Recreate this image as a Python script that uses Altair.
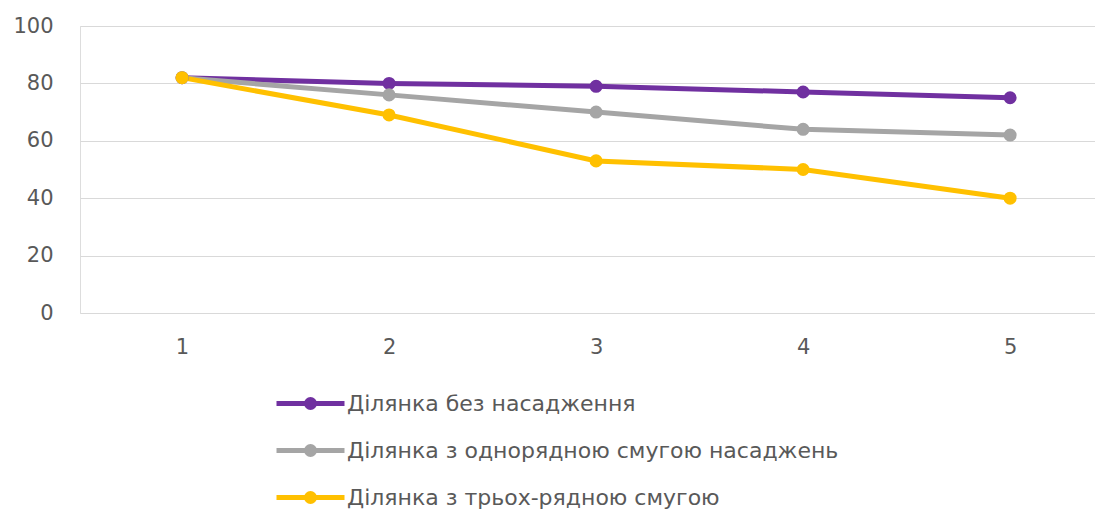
import altair as alt
import pandas as pd

categories = [1, 2, 3, 4, 5]
series_names = [
    "Ділянка без насадження",
    "Ділянка з однорядною смугою насаджень",
    "Ділянка з трьох-рядною смугою",
]
values_none = [82, 80, 79, 77, 75]
values_single = [82, 76, 70, 64, 62]
values_triple = [82, 69, 53, 50, 40]
colors = ["#7030A0", "#A5A5A5", "#FFC000"]
y_ticks = [0, 20, 40, 60, 80, 100]

rows = []
for name, vals in zip(series_names, [values_none, values_single, values_triple]):
    for c, v in zip(categories, vals):
        rows.append({"x": c, "y": v, "series": name})
df = pd.DataFrame(rows)

FONT = "DejaVu Sans"
TEXT = "#595959"

color_scale = alt.Scale(domain=series_names, range=colors)
xenc = alt.X("x:Q", scale=alt.Scale(domain=[0.507, 5.41], nice=False, zero=False),
             axis=alt.Axis(values=categories, grid=False, domain=False, ticks=False,
                           labelPadding=23, labelFontSize=21, labelColor=TEXT, labelFont=FONT,
                           title=None, format="d"))
yenc = alt.Y("y:Q", scale=alt.Scale(domain=[0, 100], nice=False),
             axis=alt.Axis(values=y_ticks, grid=True, gridColor="#D9D9D9", gridWidth=1,
                           domain=False, ticks=False, labelPadding=27, labelFontSize=21,
                           labelColor=TEXT, labelFont=FONT, title=None))

sym = "M-3.4,0H3.4M0.4,0A0.4,0.4,0,1,1,-0.4,0A0.4,0.4,0,1,1,0.4,0Z"

legend = alt.Legend(
    title=None, orient="none", legendX=218, legendY=365,
    direction="vertical", symbolType=sym, symbolSize=400,
    symbolStrokeWidth=5, symbolOpacity=1, labelOffset=24, rowPadding=18,
    labelFontSize=22, labelFont=FONT, labelColor=TEXT, labelLimit=900,
)

lines = alt.Chart(df).mark_line(strokeWidth=5).encode(
    x=xenc, y=yenc,
    stroke=alt.Stroke("series:N", scale=color_scale, sort=series_names, legend=legend),
)
points = alt.Chart(df).mark_point(filled=True, size=170, opacity=1, strokeWidth=0).encode(
    x=xenc, y=yenc,
    fill=alt.Fill("series:N", scale=color_scale, sort=series_names, legend=legend),
    stroke=alt.Stroke("series:N", scale=color_scale, sort=series_names, legend=legend),
)

chart = alt.layer(lines, points).properties(
    width=1015, height=287,
    autosize=alt.AutoSizeParams(type="none"),
    padding={"left": 72, "top": 18, "right": 0, "bottom": 198},
).configure_view(stroke=None).configure(background="white")

chart.save("out.html", embed_options={"renderer": "svg", "actions": False})
